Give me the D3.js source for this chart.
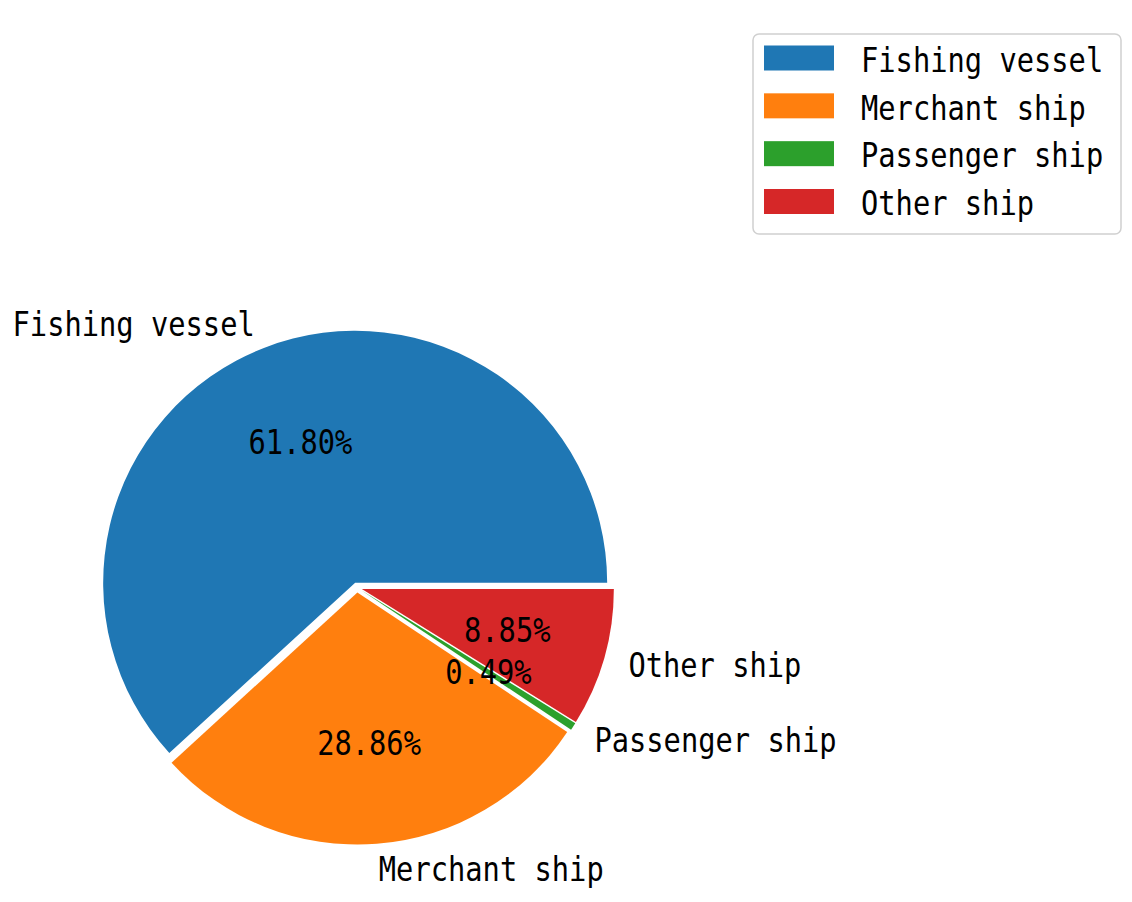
<!DOCTYPE html>
<html>
<head>
<meta charset="utf-8">
<script src="https://cdn.jsdelivr.net/npm/d3@7"></script>
<style>
  body { margin: 0; background: #fff; }
  text { font-family: "DejaVu Sans Mono", "Liberation Mono", monospace; fill: #000; }
</style>
</head>
<body>
<div id="chart"></div>
<script>
// data
var categories = ["Fishing vessel", "Merchant ship", "Passenger ship", "Other ship"];
var shares = [61.80, 28.86, 0.49, 8.85];
var explode = [0.02, 0.02, 0.02, 0.02];
var colors = ["#1f77b4", "#ff7f0e", "#2ca02c", "#d62728"];

var width = 1132, height = 902;
var cx = 357, cy = 587.5, radius = 252;
var fontSize = 33;
var squeeze = 17.3 / (0.602 * fontSize); // narrow half-width glyphs like the original

var svg = d3.select("#chart").append("svg")
    .attr("width", width)
    .attr("height", height);

// matplotlib style: start at 3 o'clock, go counterclockwise
var pie = d3.pie()
    .sort(null)
    .startAngle(Math.PI / 2)
    .endAngle(Math.PI / 2 - 2 * Math.PI)
    .value(function(d) { return d; });

var arcs = pie(shares);
var arc = d3.arc().innerRadius(0).outerRadius(radius);

function mid(d) { return (d.startAngle + d.endAngle) / 2; }
function dir(d) { var m = mid(d); return [Math.sin(m), -Math.cos(m)]; }
function shift(d) {
    var v = dir(d), e = explode[d.index] * radius;
    return "translate(" + (v[0] * e) + "," + (v[1] * e) + ")";
}
function at(x, y) { return "translate(" + x + "," + y + ") scale(" + squeeze + ",1)"; }

var g = svg.append("g").attr("transform", "translate(" + cx + "," + cy + ")");

// wedges first, texts on top of all of them
g.append("g").selectAll("path")
    .data(arcs)
    .enter().append("path")
    .attr("transform", shift)
    .attr("d", arc)
    .style("fill", function(d, i) { return colors[i]; });

var labels = g.append("g").selectAll("g")
    .data(arcs)
    .enter().append("g")
    .attr("transform", shift);

// outer labels (labeldistance 1.1)
labels.append("text")
    .attr("transform", function(d) { var v = dir(d); return at(v[0] * radius * 1.1, v[1] * radius * 1.1); })
    .attr("dominant-baseline", "central")
    .attr("text-anchor", function(d) { return dir(d)[0] > 0 ? "start" : "end"; })
    .style("font-size", fontSize + "px")
    .text(function(d, i) { return categories[i]; });

// percentages (pctdistance 0.6)
labels.append("text")
    .attr("transform", function(d) { var v = dir(d); return at(v[0] * radius * 0.6, v[1] * radius * 0.6); })
    .attr("dominant-baseline", "central")
    .attr("text-anchor", "middle")
    .style("font-size", fontSize + "px")
    .text(function(d) { return d.value.toFixed(2) + "%"; });

// legend
var legend = svg.append("g").attr("transform", "translate(753,34)");
legend.append("rect")
    .attr("width", 368)
    .attr("height", 200)
    .attr("rx", 6)
    .style("fill", "#fff")
    .style("stroke", "#d0d0d0")
    .style("stroke-width", 1.5);

var rowY = d3.scalePoint().domain(categories).range([24, 167.5]);

var item = legend.selectAll(".item")
    .data(categories)
    .enter().append("g")
    .attr("class", "item")
    .attr("transform", function(d) { return "translate(0," + rowY(d) + ")"; });

item.append("rect")
    .attr("x", 11)
    .attr("y", -12.5)
    .attr("width", 70)
    .attr("height", 25)
    .style("fill", function(d, i) { return colors[i]; });

item.append("text")
    .attr("transform", at(108, 2))
    .attr("dominant-baseline", "central")
    .style("font-size", fontSize + "px")
    .text(function(d) { return d; });
</script>
</body>
</html>
